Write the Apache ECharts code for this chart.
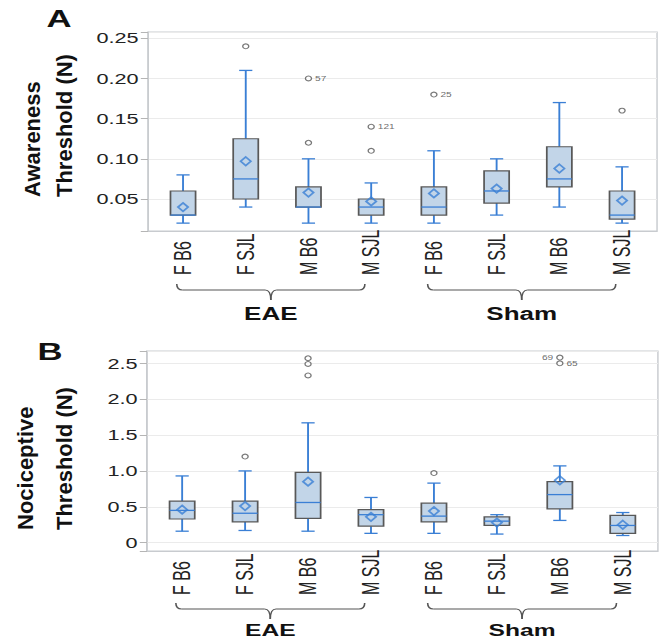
<!DOCTYPE html>
<html><head><meta charset="utf-8">
<script src="https://cdn.jsdelivr.net/npm/echarts@6/dist/echarts.min.js"></script>
<style>
html,body{margin:0;padding:0;background:#fff;overflow:hidden;width:665px;height:642px;}
#wrap{width:665px;height:642px;overflow:hidden;}
#chart{width:460px;height:642px;transform:scaleX(1.445652);transform-origin:0 0;}
</style></head><body><div id="wrap"><div id="chart"></div></div>
<script>
// ---------- data ----------
const categories = ['F B6','F SJL','M B6','M SJL','F B6','F SJL','M B6','M SJL'];
const groupNames = ['EAE','Sham'];
const groupFirst = [0, 4];
const groupLast  = [3, 7];

const awareTicks  = [0.05, 0.10, 0.15, 0.20, 0.25];
const awareLow    = [0.02, 0.04, 0.02, 0.02, 0.02, 0.03, 0.04, 0.02];
const awareQ1     = [0.03, 0.05, 0.04, 0.03, 0.03, 0.045, 0.065, 0.025];
const awareMedian = [0.03, 0.075, 0.04, 0.04, 0.04, 0.06, 0.075, 0.03];
const awareQ3     = [0.06, 0.125, 0.065, 0.05, 0.065, 0.085, 0.115, 0.06];
const awareHigh   = [0.08, 0.21, 0.10, 0.07, 0.11, 0.10, 0.17, 0.09];
const awareMean   = [0.040, 0.097, 0.058, 0.047, 0.057, 0.063, 0.088, 0.048];
const awareOutCat = [1, 2, 2, 3, 3, 4, 7];
const awareOutVal = [0.24, 0.12, 0.20, 0.11, 0.14, 0.18, 0.16];
const awareOutTag = ['', '', '57', '', '121', '25', ''];

const nociTicks  = [0, 0.5, 1.0, 1.5, 2.0, 2.5];
const nociLow    = [0.16, 0.17, 0.16, 0.13, 0.13, 0.12, 0.31, 0.10];
const nociQ1     = [0.33, 0.29, 0.34, 0.23, 0.29, 0.24, 0.47, 0.13];
const nociMedian = [0.45, 0.41, 0.56, 0.39, 0.37, 0.30, 0.67, 0.24];
const nociQ3     = [0.58, 0.58, 0.98, 0.46, 0.55, 0.36, 0.85, 0.38];
const nociHigh   = [0.93, 1.00, 1.67, 0.63, 0.83, 0.39, 1.07, 0.42];
const nociMean   = [0.46, 0.51, 0.85, 0.36, 0.44, 0.28, 0.87, 0.25];
const nociOutCat = [1, 2, 2, 2, 4, 6, 6];
const nociOutVal = [1.20, 2.33, 2.49, 2.57, 0.97, 2.50, 2.58];
const nociOutTag = ['', '', '', '', '', '65', '69'];

// ---------- styling ----------
const FONT = "'Liberation Sans', Arial, Helvetica, sans-serif";
const BLUE = '#3a7fd5';
const FRAME = '#c8cbcf';
const leftTags = {'69': true};

function renderBox(params, api) {
  const i = api.value(0);
  const lo = api.coord([i, api.value(1)]);
  const q1 = api.coord([i, api.value(2)]);
  const md = api.coord([i, api.value(3)]);
  const q3 = api.coord([i, api.value(4)]);
  const hi = api.coord([i, api.value(5)]);
  const band = api.size([1, 0])[0];
  const bw = band * 0.4, cw = band * 0.21;
  const x = lo[0];
  const ls = {stroke: BLUE, lineWidth: 1.3};
  return {type: 'group', children: [
    {type: 'line', shape: {x1: x, y1: lo[1], x2: x, y2: q1[1]}, style: ls},
    {type: 'line', shape: {x1: x, y1: q3[1], x2: x, y2: hi[1]}, style: ls},
    {type: 'line', shape: {x1: x - cw / 2, y1: lo[1], x2: x + cw / 2, y2: lo[1]}, style: ls},
    {type: 'line', shape: {x1: x - cw / 2, y1: hi[1], x2: x + cw / 2, y2: hi[1]}, style: ls},
    {type: 'rect', shape: {x: x - bw / 2, y: q3[1], width: bw, height: q1[1] - q3[1]},
      style: {fill: '#c2d5e8', stroke: '#585858', lineWidth: 1.2}},
    {type: 'line', shape: {x1: x - bw / 2, y1: md[1], x2: x + bw / 2, y2: md[1]}, style: ls}
  ]};
}

function boxData(lo, q1, md, q3, hi) {
  return categories.map((c, i) => [i, lo[i], q1[i], md[i], q3[i], hi[i]]);
}
function meanData(m) { return categories.map((c, i) => [i, m[i]]); }
function outData(cat, val, tag) {
  return cat.map((c, k) => ({
    value: [c, val[k]], name: tag[k],
    label: {position: leftTags[tag[k]] ? 'left' : 'right'}
  }));
}

const catIdx = categories.map((c, i) => i);

function xAxisCfg(gi) {
  return {
    type: 'value', gridIndex: gi, min: -0.558, max: 7.558, position: 'bottom',
    splitLine: {show: false},
    axisLine: {show: true, onZero: false, lineStyle: {color: FRAME, width: 1}},
    axisTick: {show: false},
    axisLabel: {
      customValues: catIdx, formatter: v => categories[Math.round(v)],
      rotate: 90, align: 'left', verticalAlign: 'middle', margin: 44,
      fontSize: 16, color: '#222', fontFamily: FONT
    }
  };
}
function yAxisCfg(gi, min, max, ticks, fmt) {
  return {
    type: 'value', gridIndex: gi, min: min, max: max, splitNumber: 5, position: 'left',
    axisLine: {show: true, onZero: false, lineStyle: {color: FRAME, width: 1}},
    axisTick: {show: true, length: 5, lineStyle: {color: '#b5b5b5'}},
    axisLabel: {customValues: ticks, formatter: fmt, fontSize: 15, color: '#222', margin: 6.5, fontFamily: FONT},
    splitLine: {show: true, lineStyle: {color: '#ebebeb', width: 1}}
  };
}

function panelSeries(gi, lo, q1, md, q3, hi, mean, oc, ov, ot) {
  return [
    {type: 'custom', xAxisIndex: gi, yAxisIndex: gi, renderItem: renderBox,
      encode: {x: 0, y: [1, 2, 3, 4, 5]}, data: boxData(lo, q1, md, q3, hi), z: 2, silent: true},
    {type: 'scatter', xAxisIndex: gi, yAxisIndex: gi, symbol: 'diamond', symbolSize: [7, 8.5],
      itemStyle: {color: 'rgba(0,0,0,0)', borderColor: BLUE, borderWidth: 1.5},
      data: meanData(mean), z: 3, silent: true},
    {type: 'scatter', xAxisIndex: gi, yAxisIndex: gi, symbol: 'circle', symbolSize: [4.2, 4.8],
      itemStyle: {color: '#fff', borderColor: '#555', borderWidth: 1},
      label: {show: true, formatter: p => p.name, fontSize: 7, color: '#444', distance: 2, fontFamily: FONT},
      data: outData(oc, ov, ot), z: 3, silent: true}
  ];
}

const chart = echarts.init(document.getElementById('chart'), null, {renderer: 'svg'});
chart.setOption({
  animation: false,
  backgroundColor: '#fff',
  grid: [
    {left: 102.4, right: 5.5, top: 32, height: 199, show: true, borderColor: FRAME, borderWidth: 1},
    {left: 101.7, right: 4.9, top: 351, height: 200, show: true, borderColor: FRAME, borderWidth: 1}
  ],
  xAxis: [xAxisCfg(0), xAxisCfg(1)],
  yAxis: [
    yAxisCfg(0, 0.0102, 0.2578, awareTicks, v => v.toFixed(2)),
    yAxisCfg(1, -0.116, 2.671, nociTicks, v => (v === 0 ? '0' : v.toFixed(1)))
  ],
  series: [].concat(
    panelSeries(0, awareLow, awareQ1, awareMedian, awareQ3, awareHigh, awareMean, awareOutCat, awareOutVal, awareOutTag),
    panelSeries(1, nociLow, nociQ1, nociMedian, nociQ3, nociHigh, nociMean, nociOutCat, nociOutVal, nociOutTag)
  )
});

// ---------- annotations ----------
function bracket(xl, xr, xc, y0, up, down) {
  const st = {stroke: '#555', lineWidth: 1.1, fill: null};
  const r = 4;
  return [
    {type: 'bezierCurve', shape: {x1: xl, y1: y0 - up, cpx1: xl, cpy1: y0, x2: xl + r, y2: y0}, style: st},
    {type: 'line', shape: {x1: xl + r, y1: y0, x2: xc - r, y2: y0}, style: st},
    {type: 'bezierCurve', shape: {x1: xc - r, y1: y0, cpx1: xc, cpy1: y0, x2: xc, y2: y0 + down}, style: st},
    {type: 'bezierCurve', shape: {x1: xc + r, y1: y0, cpx1: xc, cpy1: y0, x2: xc, y2: y0 + down}, style: st},
    {type: 'line', shape: {x1: xc + r, y1: y0, x2: xr - r, y2: y0}, style: st},
    {type: 'bezierCurve', shape: {x1: xr, y1: y0 - up, cpx1: xr, cpy1: y0, x2: xr - r, y2: y0}, style: st}
  ];
}
function vText(text, x, y) {
  return {type: 'text', x: x, y: y, rotation: Math.PI / 2, scaleY: 0.7, silent: true,
    style: {text: text, fontSize: 22, fontWeight: 'bold', fontFamily: FONT, fill: '#111',
      textAlign: 'left', textVerticalAlign: 'middle'}};
}
function hText(text, x, y, size) {
  return {type: 'text', x: x, y: y, silent: true,
    style: {text: text, fontSize: size, fontWeight: 'bold', fontFamily: FONT, fill: '#111',
      textAlign: 'center', textVerticalAlign: 'middle'}};
}

const g = [];
g.push(hText('A', 40.8, 19, 24));
g.push(hText('B', 34.6, 352, 24));
g.push(vText('Awareness', 22.5, 197));
g.push(vText('Threshold (N)', 44.3, 197));
g.push(vText('Nociceptive', 17.8, 530));
g.push(vText('Threshold (N)', 44.3, 530));

const panelBracketY = [290, 609];
const panelTextY = [313.5, 630];
const panelTextSize = [18, 17];
[0, 1].forEach(pi => {
  groupNames.forEach((name, k) => {
    const xl = chart.convertToPixel({xAxisIndex: pi}, groupFirst[k] - 0.1);
    const xr = chart.convertToPixel({xAxisIndex: pi}, groupLast[k] - 0.1);
    const xc = (xl + xr) / 2;
    bracket(xl, xr, xc, panelBracketY[pi], 6, 10).forEach(e => { e.silent = true; g.push(e); });
    g.push(hText(name, xc, panelTextY[pi], panelTextSize[pi]));
  });
});
chart.setOption({graphic: {elements: g}});
</script>
</body></html>
